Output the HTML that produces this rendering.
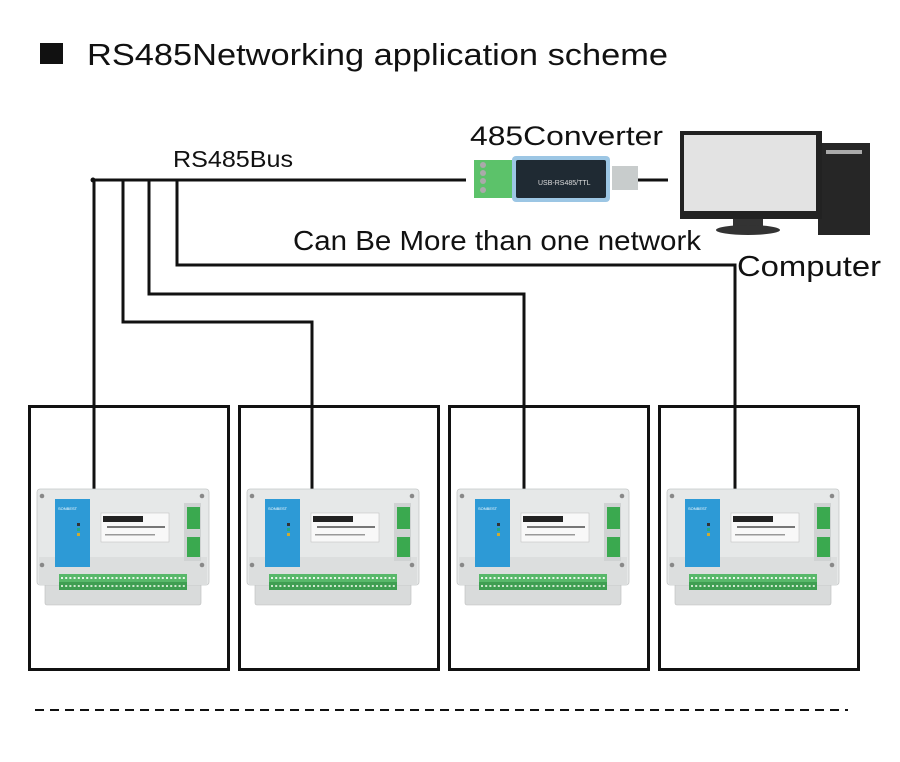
<!DOCTYPE html>
<html><head><meta charset="utf-8"><style>
html,body{margin:0;padding:0;background:#fff;}
svg{display:block;}
text{font-family:"Liberation Sans",sans-serif;fill:#111;}
</style></head><body>
<svg width="900" height="762" viewBox="0 0 900 762" xmlns="http://www.w3.org/2000/svg">
<defs>
<g id="mod">
  <rect x="8" y="94" width="156" height="22" rx="2" fill="#d9dbdb" stroke="#bbb" stroke-width="0.6"/>
  <rect x="0" y="0" width="172" height="96" rx="3" fill="#e6e8e8" stroke="#c4c6c6" stroke-width="0.8"/>
  <rect x="2" y="68" width="168" height="28" fill="#dcdede"/>
  <circle cx="5" cy="7" r="2.3" fill="#888"/><circle cx="165" cy="7" r="2.3" fill="#888"/>
  <circle cx="5" cy="76" r="2.3" fill="#888"/><circle cx="165" cy="76" r="2.3" fill="#888"/>
  <rect x="18" y="10" width="35" height="68" fill="#2d9ad6"/>
  <text x="21" y="21" font-size="4" fill="#fff" style="fill:#fff">SONBEST</text>
  <rect x="40" y="34" width="3" height="3" fill="#333"/><rect x="40" y="39" width="3" height="3" fill="#2a8"/><rect x="40" y="44" width="3" height="3" fill="#ca3"/>
  <rect x="64" y="24" width="68" height="29" fill="#f8f8f8" stroke="#bbb" stroke-width="0.5"/>
  <rect x="66" y="27" width="40" height="6" fill="#222"/>
  <rect x="70" y="37" width="58" height="2" fill="#777"/>
  <rect x="68" y="45" width="50" height="1.5" fill="#999"/>
  <rect x="147" y="14" width="17" height="58" fill="#cfd2d2"/>
  <rect x="150" y="18" width="13" height="22" fill="#3aa94f"/>
  <rect x="150" y="48" width="13" height="20" fill="#3aa94f"/>
  <rect x="22" y="85" width="128" height="8" fill="#58b86a"/>
  <rect x="22" y="93" width="128" height="8" fill="#3f9e52"/>
  <line x1="24" y1="89" x2="150" y2="89" stroke="#e8f5e8" stroke-width="2" stroke-dasharray="2 2.2"/>
  <line x1="24" y1="97" x2="150" y2="97" stroke="#cfe8cf" stroke-width="2" stroke-dasharray="2 2.2"/>
</g>
</defs>
<rect x="40" y="43" width="23" height="21" fill="#111"/>
<text x="87" y="65" font-size="31" textLength="581" lengthAdjust="spacingAndGlyphs">RS485Networking application scheme</text>
<text x="173" y="167" font-size="23" textLength="120" lengthAdjust="spacingAndGlyphs">RS485Bus</text>
<text x="470" y="145" font-size="27" textLength="193" lengthAdjust="spacingAndGlyphs">485Converter</text>
<text x="293" y="250" font-size="28" textLength="408" lengthAdjust="spacingAndGlyphs">Can Be More than one network</text>
<text x="737" y="276" font-size="29" textLength="144" lengthAdjust="spacingAndGlyphs">Computer</text>
<g fill="none" stroke="#111" stroke-width="3">
  <polyline points="92,180 466,180"/>
  <polyline points="94,180 94,490"/>
  <polyline points="123,180 123,322 312,322 312,490"/>
  <polyline points="149,180 149,294 524,294 524,490"/>
  <polyline points="177,180 177,265 735,265 735,490"/>
  <line x1="638" y1="180" x2="668" y2="180"/>
  <rect x="29.5" y="406.5" width="199" height="263"/>
  <rect x="239.5" y="406.5" width="199" height="263"/>
  <rect x="449.5" y="406.5" width="199" height="263"/>
  <rect x="659.5" y="406.5" width="199" height="263"/>
</g>
<circle cx="93" cy="180" r="2.5" fill="#111"/>
<line x1="35" y1="710" x2="848" y2="710" stroke="#111" stroke-width="2" stroke-dasharray="9 6"/>
<!-- converter -->
<rect x="474" y="160" width="45" height="38" fill="#5cc26a"/>
<circle cx="483" cy="165" r="3" fill="#aaa"/><circle cx="483" cy="173" r="3" fill="#aaa"/><circle cx="483" cy="181" r="3" fill="#aaa"/><circle cx="483" cy="190" r="3" fill="#aaa"/>
<rect x="512" y="156" width="98" height="46" rx="4" fill="#9cc6e4"/>
<rect x="516" y="160" width="90" height="38" rx="2" fill="#1f2a33"/>
<text x="538" y="185" font-size="7" style="fill:#ddd">USB-RS485/TTL</text>
<rect x="612" y="166" width="26" height="24" fill="#c8cccc"/>
<!-- computer -->
<rect x="818" y="143" width="52" height="92" fill="#262626"/>
<rect x="826" y="150" width="36" height="4" fill="#aaa"/>
<rect x="680" y="131" width="142" height="88" fill="#222"/>
<rect x="684" y="135" width="132" height="76" fill="#e3e3e3"/>
<rect x="733" y="219" width="30" height="10" fill="#333"/>
<ellipse cx="748" cy="230" rx="32" ry="5" fill="#333"/>
<use href="#mod" x="37" y="489"/>
<use href="#mod" x="247" y="489"/>
<use href="#mod" x="457" y="489"/>
<use href="#mod" x="667" y="489"/>
</svg>
</body></html>
